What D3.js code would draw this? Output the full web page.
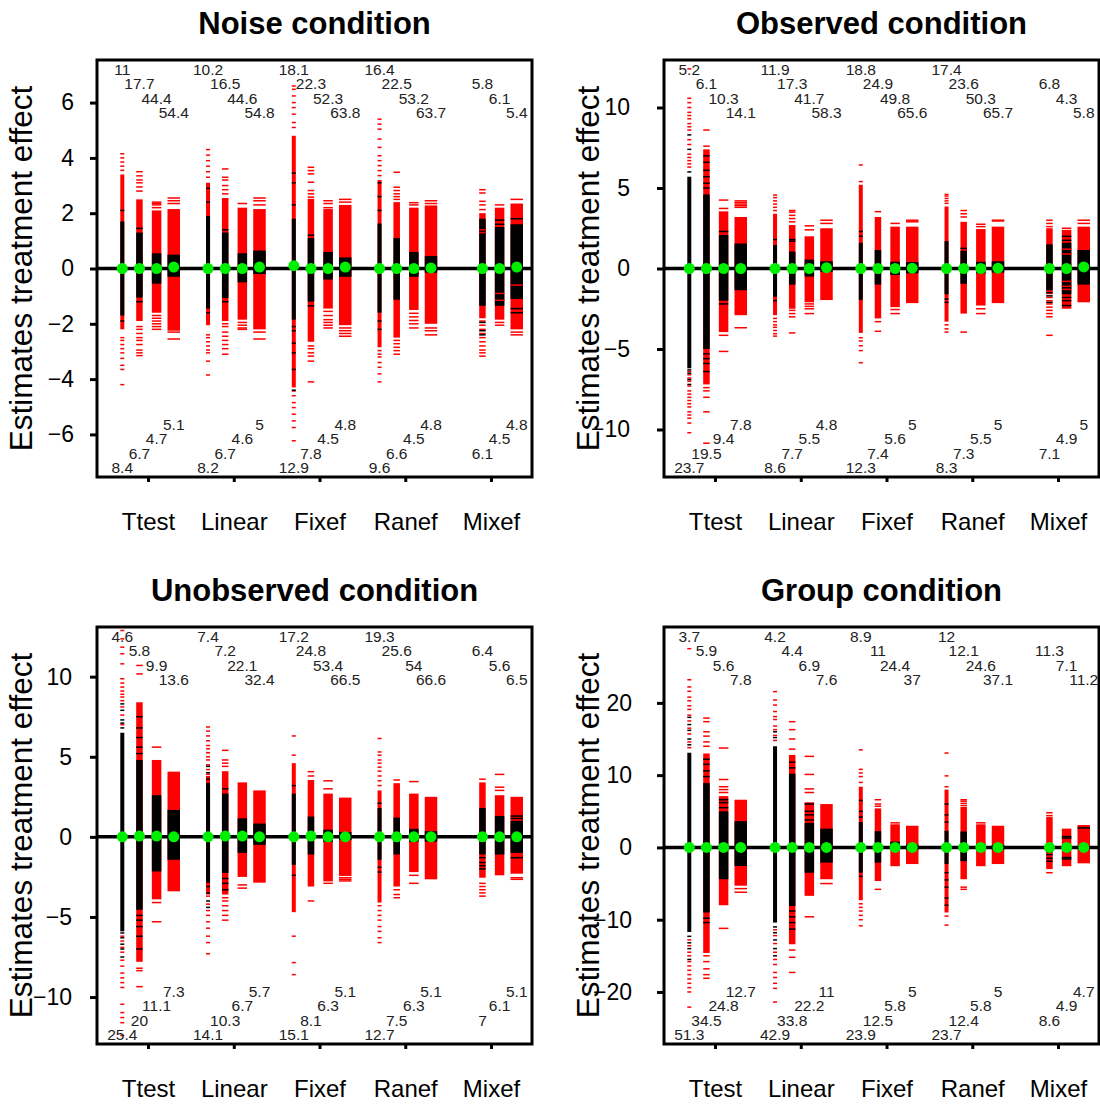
<!DOCTYPE html>
<html><head><meta charset="utf-8">
<script src="https://cdn.jsdelivr.net/npm/d3@7"></script>
<style>
body{margin:0;background:#fff}
text{font-family:"Liberation Sans",Arial,sans-serif}
</style>
</head><body>
<svg id="chart" width="1100" height="1107"></svg>
<script>
// Estimation methods (one group of bars each)
const methods = ["Ttest", "Linear", "Fixef", "Ranef", "Mixef"];

// Percent of significant positive (top) / negative (bottom) estimates per bar
const noiseTop = [[11,17.7,44.4,54.4],[10.2,16.5,44.6,54.8],[18.1,22.3,52.3,63.8],[16.4,22.5,53.2,63.7],[5.8,6.1,5.4]];
const noiseBottom = [[8.4,6.7,4.7,5.1],[8.2,6.7,4.6,5],[12.9,7.8,4.5,4.8],[9.6,6.6,4.5,4.8],[6.1,4.5,4.8]];
const observedTop = [[5.2,6.1,10.3,14.1],[11.9,17.3,41.7,58.3],[18.8,24.9,49.8,65.6],[17.4,23.6,50.3,65.7],[6.8,4.3,5.8]];
const observedBottom = [[23.7,19.5,9.4,7.8],[8.6,7.7,5.5,4.8],[12.3,7.4,5.6,5],[8.3,7.3,5.5,5],[7.1,4.9,5]];
const unobservedTop = [[4.6,5.8,9.9,13.6],[7.4,7.2,22.1,32.4],[17.2,24.8,53.4,66.5],[19.3,25.6,54,66.6],[6.4,5.6,6.5]];
const unobservedBottom = [[25.4,20,11.1,7.3],[14.1,10.3,6.7,5.7],[15.1,8.1,6.3,5.1],[12.7,7.5,6.3,5.1],[7,6.1,5.1]];
const groupTop = [[3.7,5.9,5.6,7.8],[4.2,4.4,6.9,7.6],[8.9,11,24.4,37],[12,12.1,24.6,37.1],[11.3,7.1,11.2]];
const groupBottom = [[51.3,34.5,24.8,12.7],[42.9,33.8,22.2,11],[23.9,12.5,5.8,5],[23.7,12.4,5.8,5],[8.6,4.9,4.7]];

// Y axis tick values per condition
const noiseTicks = [-6,-4,-2,0,2,4,6];
const observedTicks = [-10,-5,0,5,10];
const unobservedTicks = [-10,-5,0,5,10];
const groupTicks = [-20,-10,0,10,20];

// Distribution of estimates per bar:
// m = method, p = design position, core = non-significant (black) range,
// red = significant (red) dense range, r / k = individual red / black estimates, med = median
const noiseBars = [
  {m:0,p:0,core:[-1.7,1.7],red:[-2.2,3.4],r:[3.55,3.7,3.85,4.0,4.15,-2.5,-2.6,-2.75,-2.9,-3.05,-3.25,-3.5,-3.65,-4.2],k:[2.1,-1.9],med:0},
  {m:0,p:1,core:[-1.05,1.3],red:[-1.9,2.5],r:[2.8,2.95,3.1,3.2,3.35,3.5,-2.1,-2.2,-2.35,-2.5,-2.6,-2.75,-2.95,-3.05,-3.15],k:[1.45,-1.2],med:0},
  {m:0,p:2,core:[-0.55,0.55],red:[-1.6,2.1],r:[2.2,2.3,2.35,2.4,-1.7,-1.8,-1.9,-2.0,-2.1,-2.2],k:[],med:0},
  {m:0,p:3,core:[-0.3,0.5],red:[-2.25,2.15],r:[2.35,2.45,2.55,-2.3,-2.55],k:[],med:0.05},
  {m:1,p:0,core:[-1.45,1.9],red:[-2.05,3.1],r:[3.3,3.5,3.7,3.9,4.1,4.3,-2.4,-2.5,-2.65,-2.8,-2.95,-3.05,-3.35,-3.85],k:[2.4,2.9,-1.6],med:0},
  {m:1,p:1,core:[-1.07,1.3],red:[-1.9,2.55],r:[2.7,2.85,3.0,3.2,3.3,3.6,-2.0,-2.1,-2.3,-2.45,-2.6,-2.75,-2.9,-3.1],k:[1.4,-1.2],med:0},
  {m:1,p:2,core:[-0.5,0.55],red:[-1.85,2.2],r:[2.35,-1.95,-2.05,-2.15,-2.2],k:[],med:0},
  {m:1,p:3,core:[-0.2,0.65],red:[-2.2,2.15],r:[2.3,2.45,2.55,-2.3,-2.55],k:[],med:0.05},
  {m:2,p:0,core:[-1.85,1.8],red:[-4.3,4.8],r:[5.1,5.28,5.58,5.82,6.0,6.24,6.48,6.6,-4.43,-4.6,-4.85,-5.03,-5.27,-5.51,-5.75,-6.23],k:[2.3,3.1,3.45,-2.1,-2.25,-2.7,-3.05,-3.65,-4.4],med:0.1},
  {m:2,p:1,core:[-1.2,1.1],red:[-2.65,2.52],r:[2.58,2.7,2.82,3.12,3.42,3.54,3.66,-2.8,-2.9,-3.05,-3.17,-3.35,-4.1],k:[1.2,-1.35],med:0},
  {m:2,p:2,core:[-0.4,0.6],red:[-1.45,2.15],r:[2.2,2.35,2.45,-1.55,-1.7,-1.85,-1.95,-2.05,-2.15],k:[],med:0},
  {m:2,p:3,core:[-0.3,0.4],red:[-2.05,2.3],r:[2.4,2.5,-2.15,-2.25,-2.35,-2.45],k:[],med:0.05},
  {m:3,p:0,core:[-1.6,1.63],red:[-2.85,3.2],r:[3.36,3.54,3.72,3.9,4.08,4.38,4.68,5.04,5.22,5.4,-2.97,-3.1,-3.2,-3.4,-3.57,-3.81,-4.1],k:[2.1,2.6,3.1,-1.9,-2.2],med:0},
  {m:3,p:1,core:[-1.13,1.1],red:[-2.5,2.4],r:[2.5,2.6,2.7,2.82,2.94,3.48,-2.6,-2.72,-2.85,-2.97,-3.1],k:[],med:0},
  {m:3,p:2,core:[-0.3,0.6],red:[-1.5,2.2],r:[2.3,2.38,-1.62,-1.75,-1.88,-2.0,-2.15],k:[],med:0},
  {m:3,p:3,core:[-0.15,0.45],red:[-2.0,2.28],r:[2.35,2.45,-2.15,-2.25,-2.4],k:[],med:0.02},
  {m:4,p:1,core:[-1.35,1.8],red:[-1.8,2.0],r:[1.3,1.4,2.13,2.3,2.43,2.73,2.85,-1.9,-2.05,-2.2,-2.35,-2.5,-2.65,-2.8,-2.95,-3.05,-3.17],k:[-1.95,-2.25,-2.4],med:0},
  {m:4,p:2,core:[-1.35,1.5],red:[-1.85,2.2],r:[2.3,-0.9,-1.15,-1.95,-2.05],k:[1.6,1.75],med:0},
  {m:4,p:3,core:[-1.1,1.6],red:[-2.2,2.35],r:[2.5,-0.6,-2.3,-2.4],k:[1.8,-1.45,-1.6],med:0.05}
];

const observedBars = [
  {m:0,p:0,core:[-6.2,5.7],red:null,r:[6.3,6.5,6.7,6.9,7.1,7.7,8.0,8.6,8.8,9.0,9.3,9.5,9.7,10.0,10.3,10.57,12.4,-6.4,-6.6,-6.8,-7.0,-7.3,-7.6,-7.8,-8.0,-8.2,-8.4,-8.6,-8.9,-9.1,-9.3,-9.6,-10.2],k:[8.3,7.4,6.0,-6.3,-6.5,-6.9,-7.2],med:0},
  {m:0,p:1,core:[-5.0,4.6],red:[-7.2,7.4],r:[7.6,8.6,-7.4,-7.6,-8.0,-8.9,-10.85],k:[5.0,5.3,5.7,6.1,6.6,7.0,-5.3,-5.6,-5.9,-6.4],med:0},
  {m:0,p:2,core:[-2.0,2.08],red:[-3.95,3.55],r:[3.73,4.25,-4.15,-5.15],k:[2.3,-2.2],med:0},
  {m:0,p:3,core:[-1.35,1.55],red:[-2.9,3.2],r:[3.8,3.9,4.0,4.1,4.2,-3.68],k:[],med:0},
  {m:1,p:0,core:[-1.75,1.46],red:[-2.9,3.4],r:[3.6,3.8,4.0,4.2,4.4,4.56,-3.1,-3.3,-3.5,-3.65,-3.85,-4.05,-4.2],k:[1.8,-2.0],med:0},
  {m:1,p:1,core:[-1.0,1.05],red:[-2.5,2.7],r:[2.9,3.1,3.3,3.5,3.6,-2.6,-2.8,-3.0,-4.0],k:[1.7,1.8],med:0},
  {m:1,p:2,core:[-0.5,0.55],red:[-2.1,2.0],r:[2.4,2.65,-2.2,-2.35,-2.5,-2.8],k:[],med:0},
  {m:1,p:3,core:[-0.2,0.45],red:[-1.96,2.5],r:[2.8,3.0],k:[],med:0.05},
  {m:2,p:0,core:[-1.95,1.6],red:[-4.0,5.2],r:[5.4,6.43,-4.3,-4.5,-4.8,-5.1,-5.85],k:[2.0,2.3],med:0},
  {m:2,p:1,core:[-1.0,1.15],red:[-3.1,3.2],r:[3.53,-3.3,-3.9],k:[],med:0},
  {m:2,p:2,core:[-0.4,0.42],red:[-2.4,2.6],r:[2.8,-2.55,-2.8],k:[],med:0},
  {m:2,p:3,core:[-0.3,0.4],red:[-2.15,2.6],r:[2.9,3.0],k:[],med:0.02},
  {m:3,p:0,core:[-1.6,1.7],red:[-3.3,3.85],r:[4.05,4.2,4.35,4.5,4.6,-3.5,-3.75,-3.95],k:[-1.9,-2.1],med:0},
  {m:3,p:1,core:[-0.95,1.1],red:[-2.8,2.9],r:[3.2,3.4,3.6,-3.95],k:[1.25],med:0},
  {m:3,p:2,core:[-0.3,0.42],red:[-2.3,2.45],r:[2.6,2.75,-2.5,-2.8],k:[],med:0},
  {m:3,p:3,core:[-0.25,0.45],red:[-2.15,2.6],r:[2.95,3.0],k:[],med:0.02},
  {m:4,p:1,core:[-1.35,1.5],red:[-1.6,2.5],r:[2.6,2.8,3.0,-1.8,-2.0,-2.2,-2.4,-2.6,-2.8,-3.0,-4.15],k:[-1.5,-1.7,-2.1],med:0},
  {m:4,p:2,core:[-1.6,1.6],red:[-2.5,2.4],r:[2.5,1.2,0.9,-0.8,-1.1,-1.3],k:[1.75,2.0,-1.8,-2.0,-2.3],med:0},
  {m:4,p:3,core:[-1.0,1.15],red:[-2.1,2.6],r:[2.8,3.0],k:[],med:0.1}
];

const unobservedBars = [
  {m:0,p:0,core:[-5.9,6.5],red:null,r:[12.88,12.36,11.84,11.43,10.8,9.87,9.6,9.35,9.1,8.9,8.73,8.5,8.11,7.6,7.0,-6.2,-6.5,-6.9,-7.2,-7.7,-8.07,-8.5,-8.8,-9.1,-9.4,-10.45,-10.97,-11.28,-11.6,-12.4],k:[8.3,7.9,7.3,7.1,6.8,-6.0,-6.3,-6.7,-7.0,-7.5],med:0},
  {m:0,p:1,core:[-4.55,4.8],red:[-7.8,8.4],r:[10.17,10.7,-8.2,-8.35,-9.35],k:[5.2,5.6,6.2,6.8,7.5,-4.9,-5.2,-5.6,-6.2,-7.0],med:0.05},
  {m:0,p:2,core:[-2.16,2.6],red:[-3.9,4.8],r:[5.6,-4.1,-5.3],k:[],med:0.05},
  {m:0,p:3,core:[-1.43,1.68],red:[-3.4,4.07],r:[],k:[],med:0},
  {m:1,p:0,core:[-2.86,3.36],red:[-3.6,3.8],r:[6.86,6.6,6.3,6.0,5.7,5.5,5.25,5.0,4.8,4.5,4.2,3.9,-3.7,-4.2,-4.6,-4.9,-5.3,-5.7,-6.2,-6.6,-7.3],k:[4.4,4.0,3.6,-3.1,-3.5,-4.0,-4.4],med:0},
  {m:1,p:1,core:[-2.25,2.7],red:[-3.6,4.1],r:[4.4,4.6,4.8,5.4,-3.8,-4.0,-4.3,-4.6,-4.9,-5.2],k:[3.0,-2.6,-2.9,-3.3],med:0.05},
  {m:1,p:2,core:[-1.0,1.16],red:[-2.5,3.4],r:[-3.0,-3.2],k:[],med:0.05},
  {m:1,p:3,core:[-0.5,0.83],red:[-2.86,2.9],r:[],k:[],med:0},
  {m:2,p:0,core:[-1.75,2.7],red:[-4.7,4.6],r:[5.1,6.3,-6.2,-7.85,-8.6],k:[3.2,-2.4],med:0},
  {m:2,p:1,core:[-1.1,1.27],red:[-3.1,3.55],r:[3.8,4.07,-4.0],k:[],med:0.05},
  {m:2,p:2,core:[-0.3,0.45],red:[-2.78,2.7],r:[3.0,3.5,-2.9],k:[],med:0},
  {m:2,p:3,core:[-0.2,0.3],red:[-2.44,2.45],r:[-2.55,-2.65,-2.75],k:[],med:0},
  {m:3,p:0,core:[-1.43,1.8],red:[-4.1,2.9],r:[3.2,3.5,3.8,4.1,4.35,4.6,4.8,5.1,5.3,6.14,-4.3,-4.6,-4.9,-5.2,-5.6,-5.9,-6.3,-6.6],k:[2.1,-1.9,-2.2],med:0},
  {m:3,p:1,core:[-1.1,1.2],red:[-3.1,3.35],r:[3.55,-3.3,-3.6,-3.8],k:[],med:0},
  {m:3,p:2,core:[-0.3,0.5],red:[-2.2,2.7],r:[3.45,-2.4,-2.9],k:[],med:0},
  {m:3,p:3,core:[-0.3,0.35],red:[-2.65,2.5],r:[],k:[],med:0},
  {m:4,p:1,core:[-1.1,1.8],red:[-2.55,3.4],r:[3.6,-2.9,-3.1,-3.3,-3.5,-3.7],k:[-1.3,-1.6,-1.8,-2.0],med:0},
  {m:4,p:2,core:[-1.1,1.3],red:[-2.4,2.6],r:[2.9,3.1,3.9],k:[],med:0},
  {m:4,p:3,core:[-1.0,1.0],red:[-2.3,2.5],r:[-2.55,-2.65],k:[1.15,1.3,-1.3],med:0}
];

const groupBars = [
  {m:0,p:0,core:[-11.7,13.1],red:null,r:[27.5,23.2,22.2,21.6,20.8,20.3,19.6,19.1,18.3,17.5,16.5,15.7,14.6,13.8,-12.8,-13.6,-14.5,-15.0,-15.8,-16.4,-17.0,-17.6,-18.2,-18.8,-19.4,-20.0,-22.1],k:[18.0,17.0,16.2,15.0,14.2,-12.3,-13.2,-14.0,-15.5],med:0},
  {m:0,p:1,core:[-9.0,8.9],red:[-14.6,13.0],r:[14.0,14.6,15.4,16.0,17.4,17.9,-15.0,-15.8,-16.8,-17.6,-18.1],k:[9.8,10.6,11.5,12.2,-9.8,-10.4],med:0},
  {m:0,p:2,core:[-4.4,5.0],red:[-8.0,7.1],r:[7.6,8.0,8.4,9.4,13.75,-11.2],k:[5.5,6.2,6.6],med:0},
  {m:0,p:3,core:[-2.57,3.63],red:[-5.3,6.6],r:[-5.7,-6.2],k:[],med:0},
  {m:1,p:0,core:[-10.4,14.0],red:null,r:[21.56,20.4,19.7,18.8,18.1,17.7,16.8,16.3,15.5,14.8,-11.4,-12.2,-13.3,-14.5,-15.5,-16.2,-17.3,-18.0,-18.8,-19.5,-21.4],k:[15.2,16.0,-11.0,-11.8,-12.8,-14.0,-15.0],med:0},
  {m:1,p:1,core:[-8.1,10.2],red:[-13.4,12.8],r:[13.6,15.0,16.3,17.4,-14.2,-15.2,-17.3],k:[11.0,11.8,-8.8,-9.6,-10.4,-11.3],med:0},
  {m:1,p:2,core:[-3.5,3.4],red:[-6.7,6.25],r:[7.6,8.1,10.1,12.6,-9.6],k:[3.8,4.5,5.0,6.0],med:0},
  {m:1,p:3,core:[-2.1,2.6],red:[-4.4,6.0],r:[-5.0],k:[],med:0},
  {m:2,p:0,core:[-3.5,3.5],red:[-7.3,8.4],r:[9.0,9.8,10.3,10.8,13.5,-7.8,-8.3,-8.8,-9.4,-10.0,-10.85],k:[4.2,5.0,6.5,-4.0],med:0},
  {m:2,p:1,core:[-2.1,2.25],red:[-4.65,5.4],r:[5.7,6.0,6.6,-5.8],k:[],med:0},
  {m:2,p:2,core:[-0.4,0.8],red:[-2.6,3.2],r:[3.4],k:[],med:0},
  {m:2,p:3,core:[-0.3,0.4],red:[-2.3,3.0],r:[],k:[],med:0},
  {m:3,p:0,core:[-2.3,2.3],red:[-9.0,8.0],r:[8.4,9.9,13.06,-9.5,-10.75],k:[3.5,4.5,6.0,-3.5,-4.5,-5.5,-7.0,-8.0],med:0},
  {m:3,p:1,core:[-1.9,2.2],red:[-4.4,5.6],r:[5.8,6.1,6.4,6.6,-5.5,-5.8],k:[],med:0},
  {m:3,p:2,core:[-0.3,0.5],red:[-2.6,3.2],r:[3.4],k:[],med:0},
  {m:3,p:3,core:[-0.3,0.35],red:[-2.3,3.0],r:[],k:[],med:0},
  {m:4,p:1,core:[-0.3,0.3],red:[-3.0,4.2],r:[4.4,4.8,-3.5],k:[-0.6,-1.0,-1.5,-1.9],med:0},
  {m:4,p:2,core:null,red:[-2.6,2.6],r:[],k:[1.5,1.3,-1.4,-1.6],med:0},
  {m:4,p:3,core:null,red:[-2.2,3.1],r:[],k:[2.7],med:0}
];

// ---- drawing ----
const svg = d3.select("#chart");
const PW = 435, PH = 417;
const barWidths = [4, 6.5, 9.5, 12.5];
const RED = "#ff0000", GREEN = "#00ee00", INK = "#222";
const FONT = "Liberation Sans, Arial, sans-serif";

const panels = [
  {x0:97,  y0:60,  pad:16, title:"Noise condition",      bars:noiseBars,      top:noiseTop,      bottom:noiseBottom,      domain:[-7.54,7.54],  ticks:noiseTicks},
  {x0:664, y0:60,  pad:27, title:"Observed condition",   bars:observedBars,   top:observedTop,   bottom:observedBottom,   domain:[-12.95,12.95], ticks:observedTicks},
  {x0:97,  y0:627, pad:18, title:"Unobserved condition", bars:unobservedBars, top:unobservedTop, bottom:unobservedBottom, domain:[-12.93,13.1], ticks:unobservedTicks},
  {x0:664, y0:627, pad:25, title:"Group condition",      bars:groupBars,      top:groupTop,      bottom:groupBottom,      domain:[-27.2,30.5],  ticks:groupTicks}
];

function drawPanel(cfg) {
  const g = svg.append("g");
  const x = d3.scaleLinear().domain([-0.595, 4.478]).range([cfg.x0, cfg.x0 + PW]);
  const y = d3.scaleLinear().domain(cfg.domain).range([cfg.y0 + PH, cfg.y0]);
  const barX = (m, p) => x(m + (p - 1.5) * 0.2);

  // estimate distributions
  const marks = g.append("g");
  cfg.bars.forEach(b => {
    const cx = barX(b.m, b.p), w = barWidths[b.p];
    const bg = marks.append("g");
    if (b.red) {
      bg.append("rect").attr("x", cx - w / 2).attr("width", w)
        .attr("y", y(b.red[1])).attr("height", y(b.red[0]) - y(b.red[1])).attr("fill", RED);
    }
    if (b.core) {
      bg.append("rect").attr("x", cx - w / 2).attr("width", w)
        .attr("y", y(b.core[1])).attr("height", y(b.core[0]) - y(b.core[1])).attr("fill", "#000");
    }
    bg.selectAll("rect.r").data(b.r).join("rect").attr("class", "r")
      .attr("x", cx - w / 2).attr("width", w)
      .attr("y", d => y(d) - 0.75).attr("height", 1.5).attr("fill", RED);
    bg.selectAll("rect.k").data(b.k).join("rect").attr("class", "k")
      .attr("x", cx - w / 2).attr("width", w)
      .attr("y", d => y(d) - 0.75).attr("height", 1.5).attr("fill", "#000");
  });

  // zero reference line
  g.append("line").attr("x1", cfg.x0).attr("x2", cfg.x0 + PW)
    .attr("y1", y(0)).attr("y2", y(0)).attr("stroke", "#000").attr("stroke-width", 3.5);

  // medians
  g.append("g").selectAll("circle").data(cfg.bars).join("circle")
    .attr("cx", b => barX(b.m, b.p)).attr("cy", b => y(b.med))
    .attr("r", 5.5).attr("fill", GREEN);

  // percentage labels, one row per design position
  const lab = g.append("g").attr("font-size", 15.5).attr("fill", INK).attr("text-anchor", "middle");
  cfg.top.forEach((vals, m) => {
    const off = 4 - vals.length;
    vals.forEach((v, i) => {
      const p = i + off;
      lab.append("text").attr("x", barX(m, p)).attr("y", cfg.y0 + 15 + 14.3 * p).text(v);
    });
  });
  cfg.bottom.forEach((vals, m) => {
    const off = 4 - vals.length;
    vals.forEach((v, i) => {
      const p = i + off;
      lab.append("text").attr("x", barX(m, p)).attr("y", cfg.y0 + PH - 4 - 14.3 * p).text(v);
    });
  });

  // frame
  g.append("rect").attr("x", cfg.x0).attr("y", cfg.y0).attr("width", PW).attr("height", PH)
    .attr("fill", "none").attr("stroke", "#000").attr("stroke-width", 3);

  // y axis
  const ya = g.append("g").attr("transform", `translate(${cfg.x0},0)`)
    .call(d3.axisLeft(y).tickValues(cfg.ticks).tickSize(7).tickPadding(cfg.pad));
  ya.select(".domain").remove();
  ya.selectAll(".tick line").attr("stroke-width", 3);
  ya.selectAll(".tick text").attr("font-size", 23).attr("fill", "#000").attr("font-family", FONT);

  // x axis
  const xa = g.append("g").attr("transform", `translate(0,${cfg.y0 + PH})`)
    .call(d3.axisBottom(x).tickValues([0, 1, 2, 3, 4]).tickFormat(i => methods[i]).tickSize(5).tickPadding(31));
  xa.select(".domain").remove();
  xa.selectAll(".tick line").attr("stroke-width", 3);
  xa.selectAll(".tick text").attr("font-size", 24).attr("fill", "#000").attr("font-family", FONT);

  // titles
  g.append("text").attr("x", cfg.x0 + PW / 2).attr("y", cfg.y0 - 26)
    .attr("text-anchor", "middle").attr("font-size", 31).attr("font-weight", "bold").text(cfg.title);
  g.append("text").attr("transform", `translate(${cfg.x0 - 65},${cfg.y0 + PH / 2}) rotate(-90)`)
    .attr("text-anchor", "middle").attr("font-size", 31.5).text("Estimates treatment effect");
}

panels.forEach(drawPanel);
</script>
</body></html>
